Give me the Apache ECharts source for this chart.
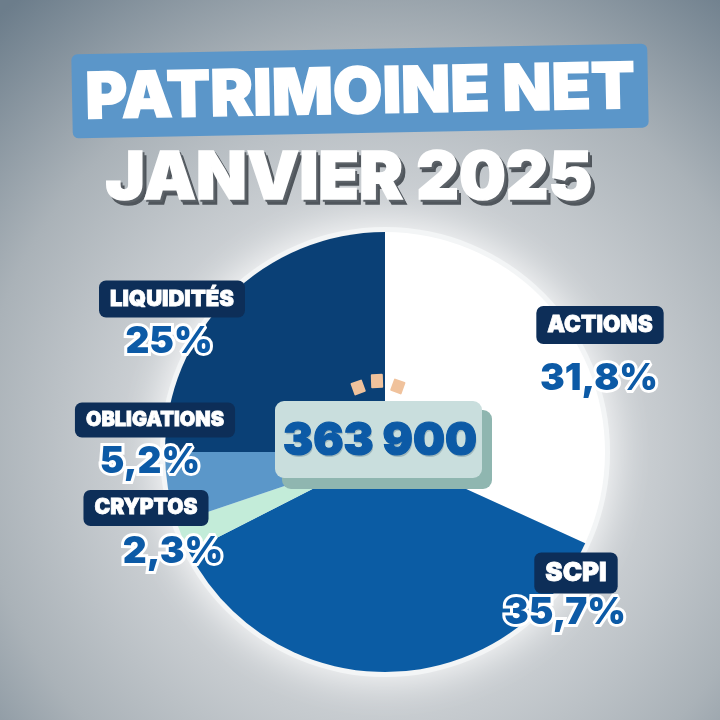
<!DOCTYPE html>
<html>
<head>
<meta charset="utf-8">
<script src="https://cdn.jsdelivr.net/npm/echarts@6/dist/echarts.min.js"></script>
<style>html,body{margin:0;padding:0;}#c{width:720px;height:720px;}</style>
</head>
<body>
<div id="c"></div>
<script>
// ---- data ----
const categories = ['ACTIONS', 'SCPI', 'CRYPTOS', 'OBLIGATIONS', 'LIQUIDITÉS'];
const shares = [31.8, 35.7, 2.3, 5.2, 25];
const totalLabel = '363 900';
const titleText = 'PATRIMOINE NET';
const subtitleText = 'JANVIER 2025';

// ---- styles / layout ----
const sliceColors = ['#ffffff', '#0b5ca4', '#c3ecd9', '#5b97c9', '#0a4076'];
const nameSizes = [22.5, 26, 21, 20, 22];
const namePos = [[600, 325], [576, 573], [146, 508], [155, 420], [172, 299]];
const pctPos = [[599, 379], [565, 613], [173, 552], [150, 462], [169, 342]];
const FONT = 'Inter, "Open Sans", sans-serif';
const C = [385, 452], R = 220;
const BLUE = '#0c5aa6';

const chart = echarts.init(document.getElementById('c'), null, {renderer: 'canvas'});
const fmtPct = v => String(v).replace('.', ',') + '%';

function labelSeries(z, label, pos, itemFn) {
  return {
    type: 'pie', z: z, silent: true,
    center: C, radius: [0, R], startAngle: 90, clockwise: true,
    avoidLabelOverlap: false,
    data: categories.map((n, i) => Object.assign({name: n, value: shares[i]}, itemFn(i))),
    labelLine: {show: false},
    label: Object.assign({show: true, position: 'outside'}, label),
    labelLayout: p => ({x: pos[p.dataIndex][0], y: pos[p.dataIndex][1], align: 'center', verticalAlign: 'middle'})
  };
}

function shadowText(text, x, y, font, rot) {
  const base = {text: text, align: 'center', verticalAlign: 'middle', font: font, lineWidth: 1.5};
  return [
    {type: 'text', z: 9, x: x + 4, y: y + 5, style: Object.assign({}, base, {fill: '#50565c', stroke: '#50565c'})},
    {type: 'text', z: 9, x: x + 2, y: y + 2.5, style: Object.assign({}, base, {fill: '#5c6268', stroke: '#5c6268'})},
    {type: 'text', z: 10, x: x, y: y, style: Object.assign({}, base, {fill: '#ffffff', stroke: '#ffffff'})}
  ];
}

chart.setOption({
  backgroundColor: {
    type: 'radial', x: 0.53, y: 0.62, r: 0.8,
    colorStops: [
      {offset: 0, color: '#f2f3f4'},
      {offset: 0.35, color: '#d6d9dc'},
      {offset: 0.7, color: '#aab2b8'},
      {offset: 1, color: '#6c7d8b'}
    ]
  },
  animation: false,
  series: [
    {
      type: 'pie', silent: true, z: 1,
      center: C, radius: [0, R + 5],
      label: {show: false}, labelLine: {show: false},
      data: [{value: 1, itemStyle: {color: '#f3f5f6', shadowBlur: 40, shadowColor: 'rgba(255,255,255,0.95)'}}]
    },
    labelSeries(2, {
      formatter: p => p.name,
      color: '#ffffff', fontFamily: FONT, fontWeight: 900, fontSize: 20,
      textBorderColor: '#ffffff', textBorderWidth: 0.8,
      backgroundColor: '#0d2e58', borderRadius: 7, padding: [8, 11, 7, 11]
    }, namePos, i => ({itemStyle: {color: sliceColors[i]}, label: {fontSize: nameSizes[i]}})),
    labelSeries(3, {
      formatter: p => fmtPct(p.value),
      color: BLUE, fontFamily: FONT, fontWeight: 900, fontSize: 37,
      textBorderColor: '#ffffff', textBorderWidth: 6
    }, pctPos, () => ({itemStyle: {color: 'rgba(0,0,0,0)'}}))
  ],
  graphic: [
    // title banner
    {
      type: 'group', x: 360, y: 91, rotation: 0.019, z: 10,
      children: [
        {type: 'rect', z: 10, shape: {x: -288, y: -42, width: 576, height: 84, r: 6}, style: {fill: '#5b96c9'}},
        {type: 'text', z: 11, style: {text: titleText, x: 0, y: 3, align: 'center', verticalAlign: 'middle',
          fill: '#ffffff', font: '900 64px ' + FONT, stroke: '#ffffff', lineWidth: 1.5}}
      ]
    }
  ].concat(shadowText(subtitleText, 349, 179, '900 66px ' + FONT)).concat([
    // center total box
    {type: 'rect', z: 20, shape: {x: 282, y: 410, width: 210, height: 79, r: 9}, style: {fill: '#8fb6b0'}},
    {type: 'rect', z: 21, shape: {x: 275, y: 401, width: 207, height: 77, r: 9}, style: {fill: '#c9dedd'}},
    {type: 'text', z: 22, x: 381, y: 443, style: {text: totalLabel, align: 'center', verticalAlign: 'middle',
      fill: 'rgba(40,70,90,0.25)', font: '900 45px ' + FONT}},
    {type: 'text', z: 23, x: 380, y: 441, style: {text: totalLabel, align: 'center', verticalAlign: 'middle',
      fill: BLUE, font: '900 45px ' + FONT, stroke: BLUE, lineWidth: 1.2}},
    // orange dashes
    {type: 'rect', z: 20, x: 358, y: 387, rotation: 0.35, shape: {x: -6, y: -6, width: 12, height: 13, r: 1}, style: {fill: '#f0c29c'}},
    {type: 'rect', z: 20, x: 377, y: 381, rotation: 0.03, shape: {x: -6, y: -7, width: 12, height: 14, r: 1}, style: {fill: '#f0c29c'}},
    {type: 'rect', z: 20, x: 398, y: 386, rotation: -0.35, shape: {x: -6, y: -6, width: 12, height: 13, r: 1}, style: {fill: '#f0c29c'}}
  ])
});
</script>
</body>
</html>
